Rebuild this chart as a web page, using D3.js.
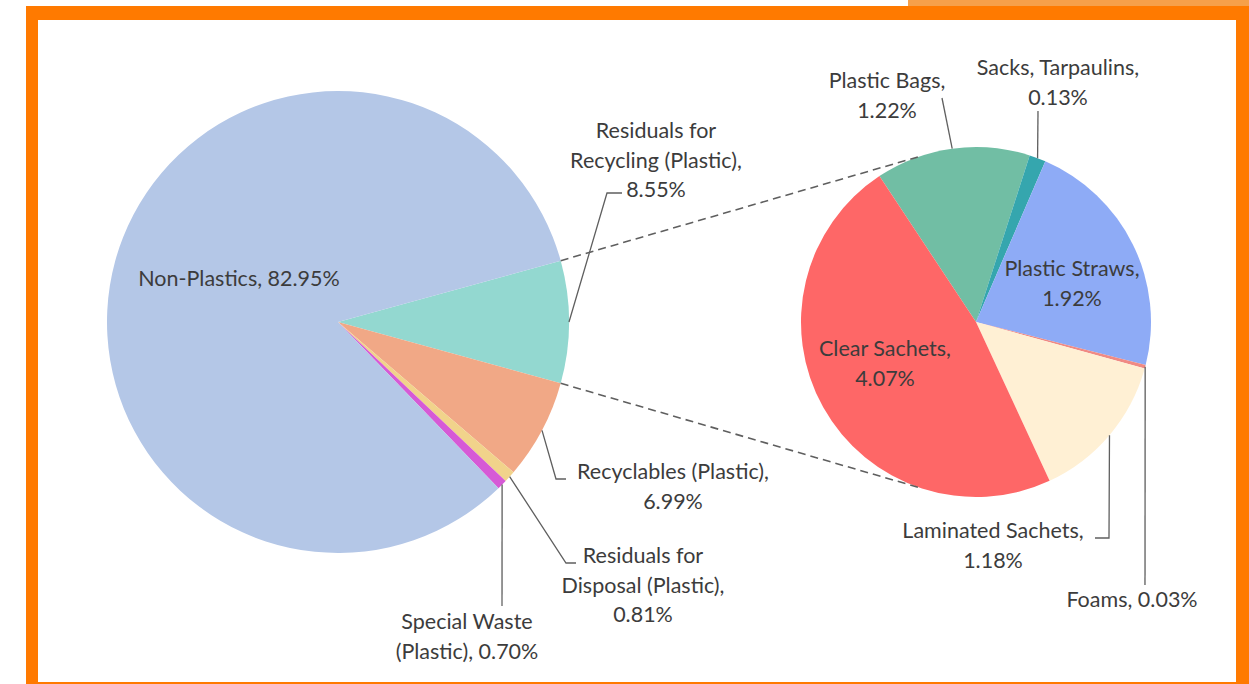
<!DOCTYPE html>
<html><head><meta charset="utf-8">
<script src="https://cdn.jsdelivr.net/npm/d3@7"></script>
<style>html,body{margin:0;padding:0;background:#fff;}svg{display:block;}</style>
</head><body>
<svg id="chart" width="1249" height="684"></svg>
<script>
// ---- data ----
const mainCategories = ["Residuals for Recycling (Plastic)", "Recyclables (Plastic)", "Residuals for Disposal (Plastic)", "Special Waste (Plastic)", "Non-Plastics"];
const mainValues = [8.55, 6.99, 0.81, 0.70, 82.95];
const mainColors = ["#93d8d0", "#f1a886", "#f1d38b", "#d65ad6", "#b4c7e7"];

const subCategories = ["Plastic Bags", "Sacks, Tarpaulins", "Plastic Straws", "Foams", "Laminated Sachets", "Clear Sachets"];
const subValues = [1.22, 0.13, 1.92, 0.03, 1.18, 4.07];
const subColors = ["#71bea4", "#35a6ae", "#8eabf6", "#f08a84", "#fff0d4", "#fe6767"];

const fmt = v => v.toFixed(2) + "%";

const svg = d3.select("#chart");
const deg = Math.PI / 180;

// frame
svg.append("rect").attr("x", 908).attr("y", 0).attr("width", 341).attr("height", 8).attr("fill", "#f6a04a");
svg.append("rect").attr("x", 26).attr("y", 6).attr("width", 1223).attr("height", 678).attr("fill", "#ff7a00");
svg.append("rect").attr("x", 38).attr("y", 20).attr("width", 1198).attr("height", 662).attr("fill", "#ffffff");

const txtColor = "#3c3c3c";
const lineColor = "#5f5f5f";
const font = "Lato, 'Open Sans', sans-serif";
const fs = 21.5;

// main pie
const c1 = {x: 338, y: 322}, r1 = 231;
const recycSpan = mainValues[0] / d3.sum(mainValues) * 2 * Math.PI;
const start1 = Math.PI / 2 - recycSpan / 2;
const pie1 = d3.pie().sort(null).value(d => d).startAngle(start1).endAngle(start1 + 2 * Math.PI);
const arcs1 = pie1(mainValues);
const arc1 = d3.arc().innerRadius(0).outerRadius(r1);
const g1 = svg.append("g").attr("transform", `translate(${c1.x},${c1.y})`);
g1.selectAll("path").data(arcs1).join("path").attr("d", arc1).attr("fill", (d, i) => mainColors[i]);

// sub pie
const c2 = {x: 976, y: 322}, r2 = 175;
const start2 = -33.5 * deg;
const pie2 = d3.pie().sort(null).value(d => d).startAngle(start2).endAngle(start2 + 2 * Math.PI);
const arcs2 = pie2(subValues);
const arc2 = d3.arc().innerRadius(0).outerRadius(r2);
const g2 = svg.append("g").attr("transform", `translate(${c2.x},${c2.y})`);
g2.selectAll("path").data(arcs2).join("path").attr("d", arc2).attr("fill", (d, i) => subColors[i]);

function pt(c, r, a) { return [c.x + r * Math.sin(a), c.y - r * Math.cos(a)]; }

// dashed connectors
const p1a = pt(c1, r1, arcs1[0].startAngle), p1b = pt(c1, r1, arcs1[0].endAngle);
const p2a = pt(c2, r2, -19.4 * deg), p2b = pt(c2, r2, 198.6 * deg);
[[p1a, p2a], [p1b, p2b]].forEach(([a, b]) => {
  svg.append("line").attr("x1", a[0]).attr("y1", a[1]).attr("x2", b[0]).attr("y2", b[1])
    .attr("stroke", lineColor).attr("stroke-width", 1.6).attr("stroke-dasharray", "8,5");
});

// leader lines
function leader(c, r, d, pts) {
  const mid = (d.startAngle + d.endAngle) / 2;
  const p = pt(c, r, mid);
  svg.append("polyline").attr("points", [p].concat(pts).map(q => q.join(",")).join(" "))
    .attr("fill", "none").attr("stroke", lineColor).attr("stroke-width", 1.3);
}
leader(c1, r1, arcs1[0], [[607, 193], [622, 193]]);
leader(c1, r1, arcs1[1], [[556, 479], [566, 479]]);
leader(c1, r1, arcs1[2], [[566, 563], [576, 563]]);
leader(c1, r1, arcs1[3], [[502, 606]]);
leader(c2, r2, arcs2[0], [[942, 98]]);
leader(c2, r2, arcs2[1], [[1038, 111]]);
leader(c2, r2, arcs2[3], [[1145, 585]]);
leader(c2, r2, arcs2[4], [[1109, 538], [1095, 538]]);

// labels
function label(x, y, lines, anchor) {
  const t = svg.append("text").attr("x", x).attr("y", y).attr("fill", txtColor)
    .attr("font-family", font).attr("font-size", fs).attr("text-anchor", anchor || "middle");
  lines.forEach((l, i) => t.append("tspan").attr("x", x).attr("dy", i === 0 ? 0 : 29.5).text(l));
}
label(239, 286, [mainCategories[4] + ", " + fmt(mainValues[4])]);
label(656, 138, ["Residuals for", "Recycling (Plastic),", fmt(mainValues[0])]);
label(673, 479, ["Recyclables (Plastic),", fmt(mainValues[1])]);
label(643, 563, ["Residuals for", "Disposal (Plastic),", fmt(mainValues[2])]);
label(467, 629, ["Special Waste", "(Plastic), " + fmt(mainValues[3])]);

label(887, 88, [subCategories[0] + ",", fmt(subValues[0])]);
label(1058, 75, [subCategories[1] + ",", fmt(subValues[1])]);
label(1072, 276, [subCategories[2] + ",", fmt(subValues[2])]);
label(1132, 607, [subCategories[3] + ", " + fmt(subValues[3])]);
label(993, 538, [subCategories[4] + ",", fmt(subValues[4])]);
label(885, 356, [subCategories[5] + ",", fmt(subValues[5])]);
</script>
</body></html>
